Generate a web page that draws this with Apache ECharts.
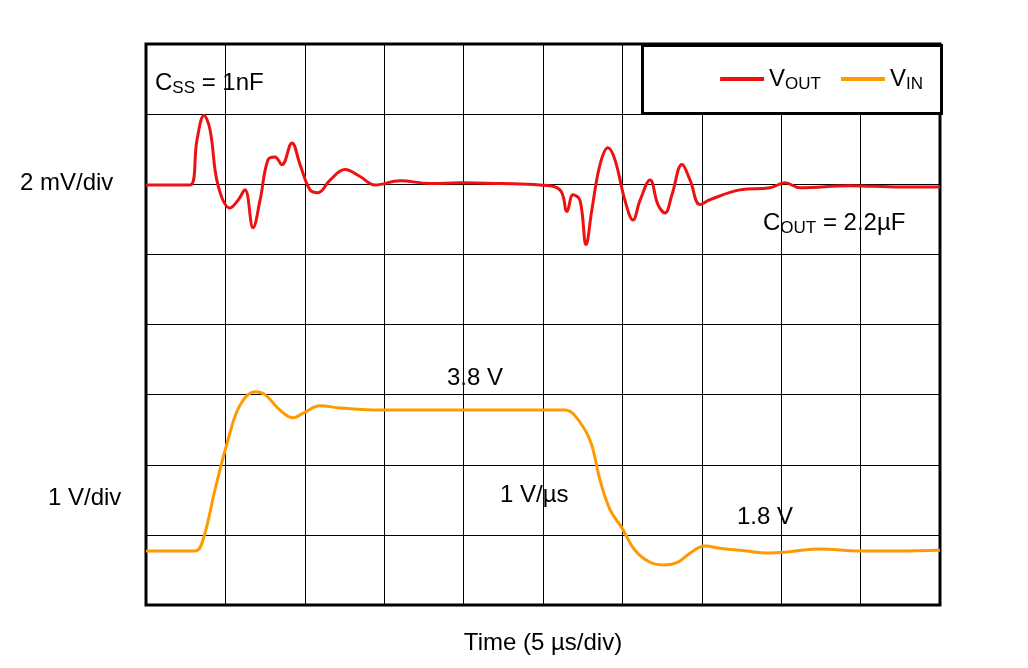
<!DOCTYPE html>
<html>
<head>
<meta charset="utf-8">
<script src="https://cdn.jsdelivr.net/npm/echarts@6/dist/echarts.min.js"></script>
<style>html,body{margin:0;padding:0;background:#fff}#chart{width:1028px;height:668px}</style>
</head>
<body>
<div id="chart"></div>
<script>
// time in µs (5 µs/div), value in screen divisions (0..8)
var vOut = [
    [0, 5.99], [2.77, 5.99], [3.21, 6.63], [3.65, 6.98], [4.03, 6.78], [4.53, 5.99], [5.29, 5.66],
    [5.79, 5.77], [6.23, 5.92], [6.74, 5.38], [7.18, 5.77], [7.68, 6.35], [8.12, 6.39], [8.56, 6.28],
    [9.19, 6.59], [9.70, 6.28], [10.33, 5.92], [10.83, 5.88], [11.59, 6.06], [12.53, 6.21], [13.48, 6.11],
    [14.42, 5.99], [16.0, 6.05], [17.88, 6.01], [19.77, 6.02], [22.29, 6.01], [24.81, 5.99], [26.07, 5.92],
    [26.51, 5.61], [26.89, 5.85], [27.33, 5.77], [27.71, 5.14], [28.08, 5.64], [28.59, 6.28], [29.09, 6.52],
    [29.53, 6.35], [30.16, 5.77], [30.67, 5.49], [31.11, 5.77], [31.74, 6.06], [32.24, 5.71], [32.68, 5.59],
    [33.12, 5.85], [33.75, 6.28], [34.26, 6.06], [34.89, 5.71], [35.52, 5.78], [37.40, 5.92], [39.29, 5.95],
    [40.24, 6.02], [41.18, 5.95], [44.33, 5.98], [47.48, 5.96], [50, 5.96]
];
var vIn = [
    [0, 0.77], [3.09, 0.77], [3.59, 0.93], [4.34, 1.64], [5.16, 2.35], [5.92, 2.85], [6.86, 3.04],
    [7.49, 3.00], [8.44, 2.78], [9.26, 2.67], [10.01, 2.75], [10.96, 2.84], [12.22, 2.81], [14.73, 2.78],
    [19.14, 2.78], [24.81, 2.78], [26.38, 2.78], [27.01, 2.70], [27.96, 2.35], [28.59, 1.78], [29.22, 1.36],
    [29.97, 1.10], [30.79, 0.78], [31.74, 0.61], [32.68, 0.57], [33.50, 0.61], [34.26, 0.74], [35.20, 0.84],
    [36.15, 0.81], [37.40, 0.78], [39.29, 0.74], [40.55, 0.76], [42.44, 0.80], [44.96, 0.77], [47.48, 0.77],
    [50, 0.78]
];

var font = 'Liberation Sans, Arial, sans-serif';
var rich = {
    n: { fontSize: 24, fontFamily: font, color: '#000' },
    s: { fontSize: 17, fontFamily: font, color: '#000', verticalAlign: 'bottom', padding: [10, 0, 0, 0] }
};
function txt(x, y, t, align) {
    return { type: 'text', left: x, top: y, z: 10,
        style: { text: t, rich: rich, font: '24px ' + font, fill: '#000', align: align || 'left' } };
}

var chart = echarts.init(document.getElementById('chart'));
chart.setOption({
    animation: false,
    grid: { left: 146, right: 88, top: 44, bottom: 63, show: true, borderColor: '#000', borderWidth: 3 },
    xAxis: {
        type: 'value', min: 0, max: 50, interval: 5,
        name: 'Time (5 µs/div)', nameLocation: 'middle', nameGap: 26,
        nameTextStyle: { fontSize: 24, fontFamily: font, color: '#000' },
        axisLabel: { show: false }, axisTick: { show: false }, axisLine: { show: false },
        splitLine: { lineStyle: { color: '#000', width: 1 } }
    },
    yAxis: {
        type: 'value', min: 0, max: 8, interval: 1,
        axisLabel: { show: false }, axisTick: { show: false }, axisLine: { show: false },
        splitLine: { lineStyle: { color: '#000', width: 1 } }
    },
    legend: {
        z: 20, right: 100, top: 62, itemWidth: 44, itemHeight: 4, itemGap: 20,
        icon: 'rect',
        formatter: function (n) { return n === 'VOUT' ? '{n|V}{s|OUT}' : '{n|V}{s|IN}'; },
        textStyle: { rich: rich }
    },
    graphic: [
        { type: 'rect', left: 641, top: 44, z: 5,
          shape: { width: 299, height: 68 }, style: { fill: '#fff', stroke: '#000', lineWidth: 3 } },
        txt(20, 171, '{n|2 mV/div}'),
        txt(48, 486, '{n|1 V/div}'),
        txt(155, 71, '{n|C}{s|SS}{n| = 1nF}'),
        txt(763, 211, '{n|C}{s|OUT}{n| = 2.2µF}'),
        txt(447, 366, '{n|3.8 V}'),
        txt(500, 483, '{n|1 V/µs}'),
        txt(737, 505, '{n|1.8 V}')
    ],
    series: [
        { name: 'VOUT', type: 'line', data: vOut, smooth: 0.4, showSymbol: false,
          lineStyle: { color: '#ee1111', width: 3 }, itemStyle: { color: '#ee1111' } },
        { name: 'VIN', type: 'line', data: vIn, smooth: 0.4, showSymbol: false,
          lineStyle: { color: '#ff9900', width: 3 }, itemStyle: { color: '#ff9900' } }
    ]
});
</script>
</body>
</html>
